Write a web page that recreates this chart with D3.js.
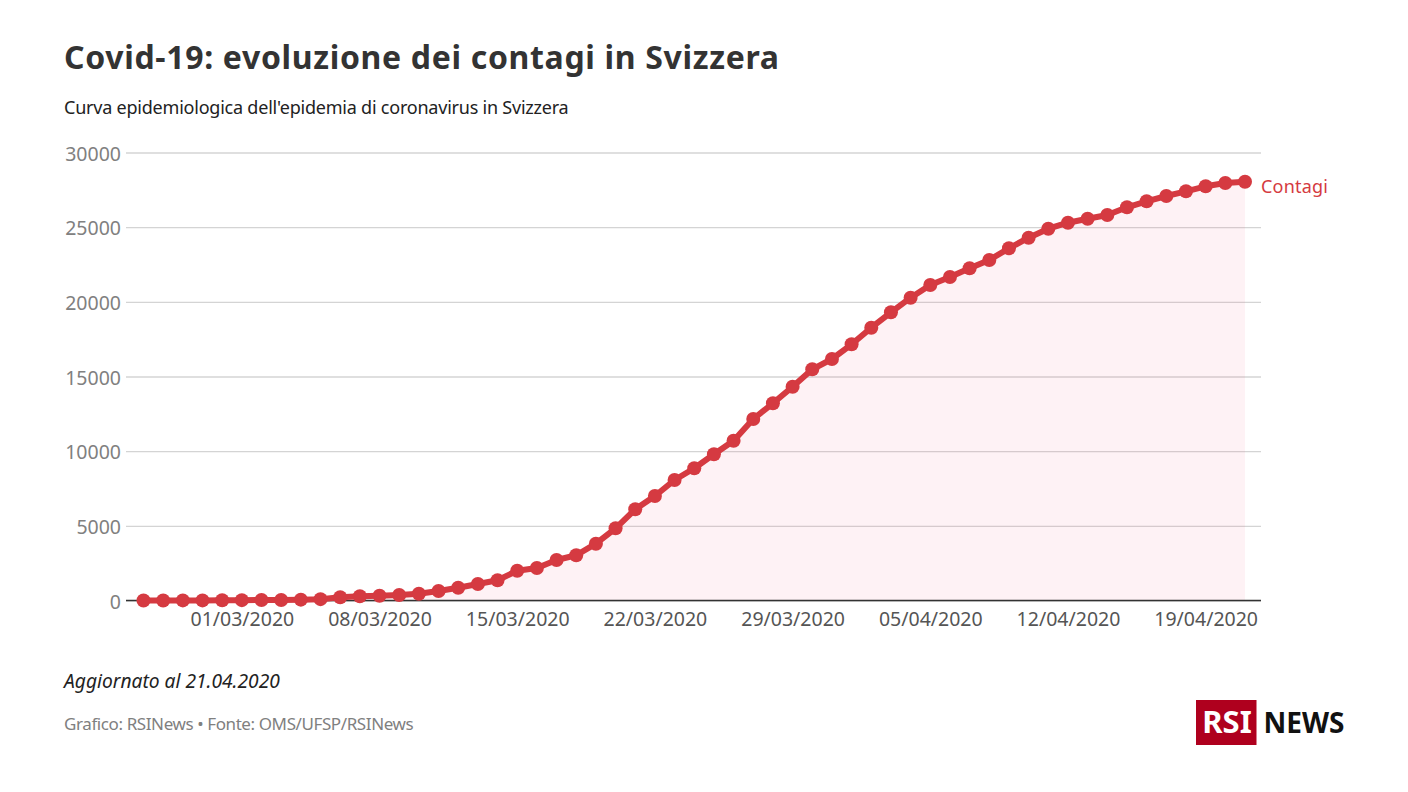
<!DOCTYPE html>
<html>
<head>
<meta charset="utf-8">
<script src="https://cdn.jsdelivr.net/npm/d3@7/dist/d3.min.js"></script>
<style>
    html, body { margin: 0; padding: 0; background: #fff; }
    text { font-family: "Noto Sans", sans-serif; }
    .domain { display: none; }
</style>
</head>
<body>
<svg id="chart" width="1408" height="792"></svg>
<script>
const days = [
    "25/02/2020", "26/02/2020", "27/02/2020", "28/02/2020", "29/02/2020",
    "01/03/2020", "02/03/2020", "03/03/2020", "04/03/2020", "05/03/2020", "06/03/2020", "07/03/2020",
    "08/03/2020", "09/03/2020", "10/03/2020", "11/03/2020", "12/03/2020", "13/03/2020", "14/03/2020",
    "15/03/2020", "16/03/2020", "17/03/2020", "18/03/2020", "19/03/2020", "20/03/2020", "21/03/2020",
    "22/03/2020", "23/03/2020", "24/03/2020", "25/03/2020", "26/03/2020", "27/03/2020", "28/03/2020",
    "29/03/2020", "30/03/2020", "31/03/2020", "01/04/2020", "02/04/2020", "03/04/2020", "04/04/2020",
    "05/04/2020", "06/04/2020", "07/04/2020", "08/04/2020", "09/04/2020", "10/04/2020", "11/04/2020",
    "12/04/2020", "13/04/2020", "14/04/2020", "15/04/2020", "16/04/2020", "17/04/2020", "18/04/2020",
    "19/04/2020", "20/04/2020", "21/04/2020"
];
const contagi = [
    1, 1, 8, 8, 15,
    24, 30, 37, 56, 90, 214, 281,
    322, 368, 455, 636, 857, 1105, 1353,
    1996, 2177, 2712, 3028, 3804, 4835, 6107,
    6998, 8069, 8853, 9790, 10701, 12154, 13205,
    14317, 15482, 16172, 17156, 18268, 19299, 20277,
    21127, 21663, 22246, 22802, 23585, 24295, 24898,
    25299, 25567, 25815, 26331, 26733, 27088, 27402,
    27737, 27958, 28045
];
const yTicks = [0, 5000, 10000, 15000, 20000, 25000, 30000];
const xTicks = ["01/03/2020", "08/03/2020", "15/03/2020", "22/03/2020", "29/03/2020", "05/04/2020", "12/04/2020", "19/04/2020"];

const parseDay = d3.timeParse("%d/%m/%Y");
const formatDay = d3.timeFormat("%d/%m/%Y");
const dates = days.map(parseDay);

const svg = d3.select("#chart");
const red = "#d53a41";

const x = d3.scaleTime().domain(d3.extent(dates)).range([143.5, 1245]);
const y = d3.scaleLinear().domain([0, 30000]).range([600.5, 152.5]);
const gridLeft = 126, gridRight = 1261;

// grid + y labels
const yAxis = svg.append("g")
    .attr("transform", `translate(${gridLeft},0)`)
    .call(d3.axisLeft(y).tickValues(yTicks).tickFormat(d3.format("d")).tickSize(-(gridRight - gridLeft)).tickPadding(5));
yAxis.selectAll(".tick line").attr("stroke", "#d4d4d4").attr("stroke-width", 1.3);
yAxis.selectAll(".tick text").attr("fill", "#808080").attr("dy", "0.4em").style("font-size", "19.5px");

// area under the curve
const area = d3.area()
    .x((d, i) => x(dates[i]))
    .y0(y(0))
    .y1(d => y(d));
svg.append("path").datum(contagi)
    .attr("d", area)
    .attr("fill", "#f0436e")
    .attr("fill-opacity", 0.07);

// baseline
svg.append("line")
    .attr("x1", gridLeft).attr("x2", gridRight)
    .attr("y1", y(0)).attr("y2", y(0))
    .attr("stroke", "#333").attr("stroke-width", 1.3);

// x labels
const xAxis = svg.append("g")
    .attr("transform", `translate(0,${y(0)})`)
    .call(d3.axisBottom(x).tickValues(xTicks.map(parseDay)).tickFormat(formatDay).tickSize(0).tickPadding(12));
xAxis.selectAll(".tick text").attr("fill", "#555").style("font-size", "19.5px");

// line + points
const line = d3.line()
    .x((d, i) => x(dates[i]))
    .y(d => y(d));
svg.append("path").datum(contagi)
    .attr("d", line)
    .attr("fill", "none")
    .attr("stroke", red)
    .attr("stroke-width", 6)
    .attr("stroke-linejoin", "round");
svg.selectAll("circle.pt").data(contagi).join("circle")
    .attr("class", "pt")
    .attr("cx", (d, i) => x(dates[i]))
    .attr("cy", d => y(d))
    .attr("r", 7)
    .attr("fill", red);

// series label
svg.append("text")
    .attr("x", 1261).attr("y", 193)
    .attr("fill", red)
    .style("font-size", "18px")
    .style("letter-spacing", "0.2px")
    .text("Contagi");

// titles
svg.append("text")
    .attr("x", 64).attr("y", 69)
    .attr("fill", "#333")
    .style("font-size", "32px")
    .style("font-weight", 700)
    .style("letter-spacing", "0.67px")
    .text("Covid-19: evoluzione dei contagi in Svizzera");
svg.append("text")
    .attr("x", 64).attr("y", 114)
    .attr("fill", "#222")
    .style("font-size", "18px")
    .style("letter-spacing", "-0.22px")
    .text("Curva epidemiologica dell'epidemia di coronavirus in Svizzera");

// footer
svg.append("text")
    .attr("x", 64).attr("y", 688)
    .attr("fill", "#222")
    .style("font-size", "19.2px")
    .style("font-style", "italic")
    .text("Aggiornato al 21.04.2020");
svg.append("text")
    .attr("x", 64).attr("y", 730)
    .attr("fill", "#808080")
    .style("font-size", "17px")
    .style("letter-spacing", "-0.4px")
    .text("Grafico: RSINews • Fonte: OMS/UFSP/RSINews");

// logo
const logo = svg.append("g");
logo.append("rect")
    .attr("x", 1196).attr("y", 700)
    .attr("width", 60.5).attr("height", 45)
    .attr("fill", "#af001e");
logo.append("text")
    .attr("x", 1227).attr("y", 733)
    .attr("text-anchor", "middle")
    .attr("fill", "#fff")
    .style("font-size", "31px")
    .style("font-weight", 700)
    .text("RSI");
logo.append("text")
    .attr("x", 1263.5).attr("y", 733)
    .attr("fill", "#111")
    .style("font-size", "28px")
    .style("font-weight", 700)
    .text("NEWS");
</script>
</body>
</html>
